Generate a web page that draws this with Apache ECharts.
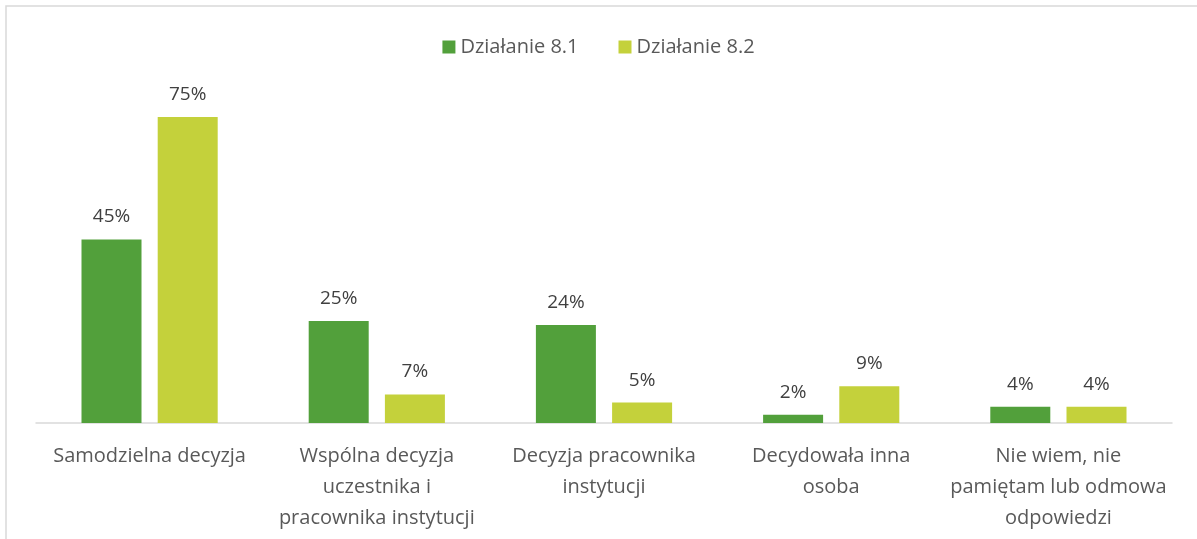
<!DOCTYPE html>
<html>
<head>
<meta charset="utf-8">
<script src="https://cdn.jsdelivr.net/npm/echarts@6/dist/echarts.min.js"></script>
<style>
  html, body { margin: 0; padding: 0; background: #fff; }
  #chart { width: 1197px; height: 539px; }
</style>
</head>
<body>
<div id="chart"></div>
<script>
  var categories = [
    'Samodzielna decyzja',
    'Wspólna decyzja\nuczestnika i\npracownika instytucji',
    'Decyzja pracownika\ninstytucji',
    'Decydowała inna\nosoba',
    'Nie wiem, nie\npamiętam lub odmowa\nodpowiedzi'
  ]
  var seriesNames = ['Działanie 8.1', 'Działanie 8.2']
  var values81 = [45, 25, 24, 2, 4]
  var values82 = [75, 7, 5, 9, 4]

  var font = '"Open Sans", sans-serif'
  var myChart = echarts.init(document.getElementById('chart'))

  var labelStyle = {
    show: true,
    position: 'top',
    distance: 13,
    formatter: '{c}%',
    fontFamily: font,
    fontSize: 19,
    color: '#404040'
  }

  var option = {
    animation: false,
    color: ['#52a03b', '#c4d13b'],
    graphic: [{
      type: 'rect',
      shape: { x: 6, y: 6, width: 1300, height: 600 },
      style: { fill: 'none', stroke: '#d9d9d9', lineWidth: 1.5 },
      silent: true
    }],
    legend: {
      top: 32,
      left: 'center',
      itemWidth: 13,
      itemHeight: 13,
      itemGap: 40,
      icon: 'rect',
      textStyle: { fontFamily: font, fontSize: 20, color: '#595959' },
      data: seriesNames
    },
    grid: {
      left: 36,
      right: 25,
      top: 15,
      bottom: 116,
      containLabel: false
    },
    xAxis: {
      type: 'category',
      data: categories,
      axisLine: { show: true, lineStyle: { color: '#d9d9d9', width: 1.5 } },
      axisTick: { show: false },
      axisLabel: {
        interval: 0,
        margin: 18,
        lineHeight: 31,
        fontFamily: font,
        fontSize: 20,
        color: '#595959'
      }
    },
    yAxis: {
      type: 'value',
      min: 0,
      max: 100,
      show: false,
      splitLine: { show: false }
    },
    series: [
      {
        name: seriesNames[0],
        type: 'bar',
        barWidth: 60,
        barGap: '27%',
        label: labelStyle,
        data: values81
      },
      {
        name: seriesNames[1],
        type: 'bar',
        barWidth: 60,
        barGap: '27%',
        label: labelStyle,
        data: values82
      }
    ]
  }
  myChart.setOption(option)
</script>
</body>
</html>
